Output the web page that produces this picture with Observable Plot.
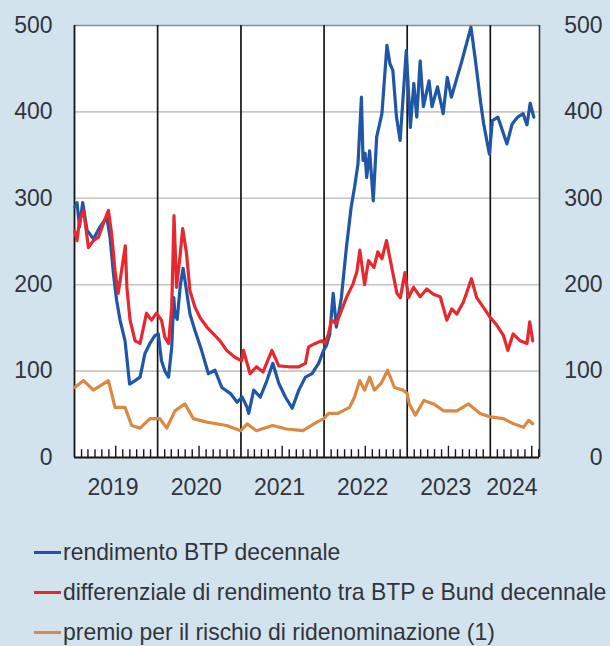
<!DOCTYPE html>
<html><head><meta charset="utf-8">
<script src="https://cdn.jsdelivr.net/npm/d3@7"></script>
<script src="https://cdn.jsdelivr.net/npm/@observablehq/plot@0.6"></script>
<style>
html,body{margin:0;padding:0;background:#d3e3ed;width:610px;height:646px;overflow:hidden;font-family:"Liberation Sans",Arial,sans-serif;}
#chart{position:absolute;left:0;top:0;}
.item{position:absolute;left:34px;height:26px;white-space:nowrap;}
.sw{position:absolute;left:0;top:12px;width:27px;height:2.6px;}
.lt{position:absolute;left:29px;top:0;font-size:24px;line-height:26px;color:#30343c;transform:scaleX(0.955);transform-origin:0 50%;}
</style></head>
<body>
<div id="chart"></div>
<div id="legend"></div>
<script>
const seriesNames = ["rendimento BTP decennale","differenziale di rendimento tra BTP e Bund decennale","premio per il rischio di ridenominazione (1)"];
const seriesColors = ["#1f56a6","#e8282f","#db8843"];
const yTicks = [0,100,200,300,400,500];
const yearLabels = ["2019","2020","2021","2022","2023","2024"];

const btpDates = ["2019-01-02","2019-01-12","2019-01-23","2019-02-06","2019-02-25","2019-03-25","2019-04-23","2019-05-23","2019-06-06","2019-06-21","2019-07-05","2019-07-20","2019-08-11","2019-08-31","2019-09-24","2019-10-16","2019-11-06","2019-11-28","2019-12-20","2020-01-04","2020-01-18","2020-02-02","2020-02-18","2020-03-03","2020-03-12","2020-03-17","2020-03-27","2020-04-10","2020-04-22","2020-05-07","2020-05-22","2020-06-13","2020-07-12","2020-08-11","2020-09-09","2020-10-09","2020-11-16","2020-12-15","2021-01-06","2021-01-28","2021-02-04","2021-02-26","2021-03-27","2021-04-25","2021-05-21","2021-06-16","2021-07-15","2021-08-14","2021-09-12","2021-10-11","2021-11-09","2021-12-08","2021-12-30","2022-01-12","2022-01-26","2022-02-10","2022-02-24","2022-03-18","2022-04-09","2022-04-30","2022-05-15","2022-05-30","2022-06-14","2022-06-21","2022-06-30","2022-07-07","2022-07-20","2022-08-05","2022-08-20","2022-09-12","2022-10-04","2022-10-17","2022-10-30","2022-11-15","2022-12-01","2022-12-28","2023-01-15","2023-01-30","2023-02-12","2023-02-27","2023-03-13","2023-04-07","2023-04-20","2023-05-14","2023-06-08","2023-06-26","2023-07-14","2023-08-08","2023-08-26","2023-10-08","2023-10-26","2023-11-20","2023-12-03","2023-12-28","2024-01-10","2024-02-03","2024-03-14","2024-04-06","2024-04-30","2024-05-24","2024-06-10","2024-06-24","2024-07-10"];
const btpValues = [290,295,267,295,263,253,267,278,255,213,182,159,135,85,89,93,120,132,141,143,112,100,93,128,185,165,160,200,219,193,166,147,124,97,101,81,74,64,70,58,51,78,70,89,109,86,70,57,78,93,97,109,124,130,143,190,151,185,243,290,313,340,417,344,352,324,355,297,371,398,477,456,448,394,367,471,382,433,394,459,406,436,406,429,398,440,417,440,456,498,463,410,386,351,390,394,363,386,394,398,385,410,394];

const spreadDates = ["2019-01-02","2019-01-12","2019-01-23","2019-02-10","2019-03-03","2019-03-25","2019-04-16","2019-05-08","2019-05-30","2019-06-13","2019-06-28","2019-07-12","2019-08-12","2019-08-19","2019-09-02","2019-09-24","2019-10-16","2019-11-13","2019-12-05","2019-12-27","2020-01-18","2020-02-02","2020-02-18","2020-03-03","2020-03-13","2020-03-24","2020-04-08","2020-04-20","2020-05-07","2020-05-22","2020-06-13","2020-07-05","2020-08-04","2020-09-02","2020-10-01","2020-10-30","2020-12-05","2021-01-04","2021-01-12","2021-02-10","2021-03-10","2021-04-08","2021-05-17","2021-06-16","2021-07-29","2021-09-12","2021-10-11","2021-10-25","2021-11-23","2021-12-22","2022-01-05","2022-01-20","2022-02-03","2022-02-24","2022-03-18","2022-04-09","2022-05-08","2022-05-25","2022-06-07","2022-06-28","2022-07-15","2022-08-08","2022-08-25","2022-09-12","2022-10-02","2022-10-19","2022-11-17","2022-12-02","2022-12-22","2023-01-07","2023-01-29","2023-02-27","2023-03-28","2023-04-26","2023-05-26","2023-06-24","2023-07-16","2023-08-07","2023-09-05","2023-10-10","2023-11-02","2023-12-01","2024-01-01","2024-01-30","2024-02-28","2024-03-18","2024-04-10","2024-05-11","2024-06-10","2024-06-22","2024-07-05"];
const spreadValues = [262,251,274,286,243,251,255,271,286,259,216,190,245,197,159,135,132,167,159,167,159,139,132,174,280,197,232,265,236,193,174,162,151,143,135,124,116,112,124,97,105,99,124,106,105,105,109,128,132,135,132,143,159,155,170,185,201,215,240,200,228,220,238,230,251,228,190,185,214,185,197,186,195,189,186,159,172,166,180,207,185,174,162,153,141,124,143,135,132,157,135];

const premioDates = ["2019-01-02","2019-02-10","2019-03-25","2019-05-30","2019-06-28","2019-08-11","2019-09-09","2019-10-16","2019-11-28","2020-01-11","2020-02-10","2020-03-17","2020-04-30","2020-06-06","2020-08-04","2020-10-30","2020-12-31","2021-01-28","2021-03-10","2021-05-20","2021-07-20","2021-09-30","2021-11-30","2021-12-31","2022-01-20","2022-03-03","2022-04-23","2022-05-15","2022-06-06","2022-06-28","2022-07-20","2022-08-10","2022-09-09","2022-10-07","2022-11-06","2022-12-13","2023-01-01","2023-01-10","2023-02-06","2023-03-15","2023-04-27","2023-06-10","2023-08-07","2023-09-27","2023-11-17","2024-01-01","2024-02-28","2024-04-12","2024-05-26","2024-06-17","2024-07-05"];
const premioValues = [81,89,78,89,58,58,37,34,45,45,34,54,62,45,41,37,31,39,31,37,33,31,41,45,51,51,58,70,89,78,93,78,86,101,81,78,74,62,49,66,62,54,54,62,51,47,45,39,35,43,39];

const parse = d3.utcParse("%Y-%m-%d");
const rows = [];
function add(name, dates, vals){ dates.forEach((d,i)=>rows.push({series:name, date:parse(d), value:vals[i]})); }
add(seriesNames[0], btpDates, btpValues);
add(seriesNames[1], spreadDates, spreadValues);
add(seriesNames[2], premioDates, premioValues);

const xStart = new Date(Date.UTC(2019,0,1));
const xEnd = new Date(Date.UTC(2024,7,4));
const yearStarts = d3.utcYear.range(new Date(Date.UTC(2020,0,1)), xEnd);
const months = d3.utcMonth.range(new Date(Date.UTC(2019,1,1)), xEnd).filter(d => d.getUTCMonth() !== 0);
const labelRows = yearLabels.map((t,i) => {
  const a = new Date(Date.UTC(2019+i,0,1));
  const b = new Date(Math.min(+new Date(Date.UTC(2020+i,0,1)), +xEnd));
  return {text:t, date:new Date((+a + +b)/2)};
});

const txt = "#30343c";
const chart = Plot.plot({
  width: 610, height: 510,
  marginLeft: 74, marginRight: 71, marginTop: 25, marginBottom: 53,
  style: {background: "transparent", fontFamily: "'Liberation Sans', Arial, sans-serif"},
  x: {type: "utc", domain: [xStart, xEnd], axis: null},
  y: {domain: [0, 500], axis: null},
  color: {domain: seriesNames, range: seriesColors},
  marks: [
    Plot.frame({fill: "white", stroke: null}),
    Plot.ruleY([100,200,300,400], {stroke: "#c6c6c6", strokeWidth: 1.6}),
    Plot.ruleY([500], {stroke: "#8c8c8c", strokeWidth: 1.6}),
    Plot.ruleX(yearStarts, {stroke: "#151515", strokeWidth: 1.7}),
    Plot.ruleX([xStart], {stroke: "#151515", strokeWidth: 1.8}),
    Plot.ruleX([xEnd], {stroke: "#3a3a3a", strokeWidth: 1.6}),
    Plot.line(rows, {x: "date", y: "value", z: "series", stroke: "series", strokeWidth: 3.2, strokeLinejoin: "round"}),
    Plot.ruleX(months, {y1: 0, y2: d => d.getUTCMonth() === 6 ? 13 : 9, stroke: "#151515", strokeWidth: 1.4}),
    Plot.ruleY([0], {stroke: "#151515", strokeWidth: 2}),
    Plot.axisY(yTicks, {anchor: "left", tickSize: 0, tickPadding: 22, fontSize: 23, fill: txt, label: null}),
    Plot.text(yTicks, {x: xEnd, y: d => d, text: d => String(d), dx: 63, textAnchor: "end", fontSize: 23, fill: txt}),
    Plot.text(labelRows, {x: "date", y: 0, text: "text", dy: 30, dx: -3, fontSize: 23, fill: txt})
  ]
});
document.getElementById("chart").appendChild(chart);

const legend = document.getElementById("legend");
const legendY = [552, 592, 632];
seriesNames.forEach((n,i) => {
  const it = document.createElement("div");
  it.className = "item";
  it.style.top = (legendY[i]-13) + "px";
  it.innerHTML = `<div class="sw" style="background:${seriesColors[i]}"></div><div class="lt">${n}</div>`;
  legend.appendChild(it);
});
</script>
</body></html>
